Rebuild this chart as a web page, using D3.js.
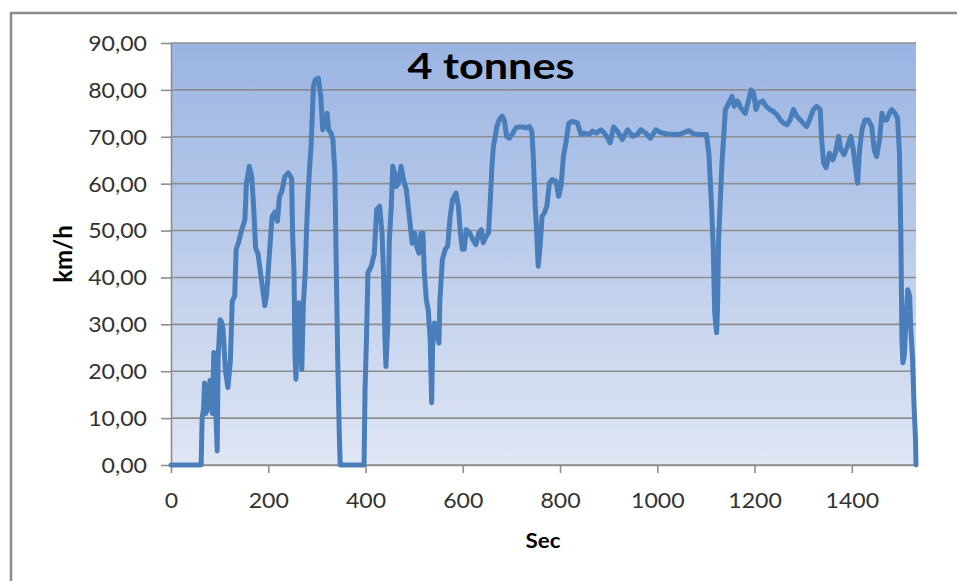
<!DOCTYPE html>
<html>
<head>
<meta charset="utf-8">
<script src="https://cdn.jsdelivr.net/npm/d3@7"></script>
<style>
  html, body { margin: 0; padding: 0; background: #ffffff; }
  svg { display: block; }
  text { font-family: Lato, "Open Sans", "DejaVu Sans", sans-serif; }
</style>
</head>
<body>
<svg id="chart" width="957" height="581"></svg>
<script>
// Speed trace of a 4 tonne vehicle over a drive cycle (time in s, speed in km/h)
const seconds = [
  0, 62, 64, 67, 69, 72, 76, 80, 85, 88, 91, 95, 97, 101, 104, 107, 112, 117, 122, 126,
  131, 134, 139, 145, 152, 155, 161, 166, 170, 174, 179, 186, 193, 197, 202, 205, 208, 214, 219, 223,
  228, 234, 241, 248, 250, 253, 255, 257, 260, 263, 266, 269, 272, 276, 279, 283, 288, 291, 293, 297,
  303, 308, 312, 315, 318, 321, 324, 329, 333, 337, 340, 343, 346, 348, 397, 399, 402, 405, 412, 418,
  423, 429, 434, 437, 440, 442, 446, 449, 453, 456, 460, 463, 468, 473, 478, 484, 490, 496, 501, 505,
  510, 514, 518, 521, 525, 529, 533, 536, 538, 542, 547, 551, 553, 558, 564, 569, 574, 579, 586, 591,
  595, 599, 603, 607, 614, 621, 627, 633, 638, 642, 648, 653, 657, 660, 663, 667, 670, 675, 681, 686,
  690, 696, 703, 709, 716, 723, 730, 737, 742, 745, 749, 752, 755, 759, 763, 768, 773, 778, 784, 792,
  797, 802, 807, 812, 818, 826, 836, 843, 850, 860, 867, 875, 884, 891, 898, 903, 910, 918, 928, 939,
  949, 959, 966, 976, 986, 997, 1007, 1020, 1034, 1048, 1065, 1075, 1089, 1101, 1106, 1111, 1115, 1118, 1122, 1124,
  1126, 1130, 1133, 1137, 1140, 1147, 1154, 1158, 1165, 1172, 1181, 1188, 1193, 1198, 1203, 1208, 1217, 1224, 1232, 1239,
  1246, 1253, 1260, 1267, 1273, 1280, 1287, 1294, 1300, 1307, 1313, 1321, 1328, 1335, 1338, 1342, 1347, 1354, 1361, 1366,
  1373, 1377, 1384, 1391, 1398, 1403, 1409, 1412, 1416, 1421, 1427, 1434, 1441, 1446, 1451, 1457, 1462, 1466, 1472, 1477,
  1482, 1489, 1494, 1498, 1501, 1503, 1505, 1508, 1512, 1515, 1519, 1521, 1525, 1528, 1531, 1532
];
const speedKmh = [
  0, 0, 10, 12, 17.5, 11, 12.5, 18, 11, 24, 15, 3, 23, 31, 30.5, 29, 20, 16.5, 22, 35,
  36, 46, 47.5, 50, 52.3, 60, 63.7, 61.5, 55, 46.3, 45, 39.5, 34, 36.7, 44.5, 48.8, 53, 54, 52, 57.3,
  58.4, 61.5, 62.3, 61.2, 49.5, 41, 23, 18.3, 30, 34.6, 26.8, 20.4, 34, 41, 51, 60, 68, 75.8, 80.8, 82.2,
  82.5, 78.6, 71.5, 74.4, 72.2, 75, 71.5, 70.8, 69.4, 62.3, 41, 21.8, 6.9, 0, 0, 16, 27, 41, 42.4, 45,
  54.5, 55.2, 49.5, 41, 26.8, 21, 30, 48, 55.2, 63.7, 62.3, 59.4, 60.1, 63.7, 60.9, 58.7, 53, 47.3, 49.5, 46.7,
  45.2, 49.5, 49.5, 41, 35.3, 33, 26.8, 13.3, 25.4, 30.3, 28.2, 26, 35.3, 43.8, 46, 46.7, 53, 56.6, 58, 55.2,
  49.5, 46, 46, 50.2, 49.5, 48, 47, 49.5, 50.2, 47.4, 48.8, 49.5, 57.3, 63.7, 68, 70.1, 72.2, 73.6, 74.4, 73.3,
  70.1, 69.7, 70.8, 71.9, 72.1, 72.1, 71.9, 72.2, 71.2, 65.8, 55.2, 49.5, 42.4, 46.7, 53, 53.8, 55.2, 60.1, 60.9, 60.5,
  57.3, 59.4, 65.8, 68.7, 72.9, 73.3, 72.9, 70.5, 70.8, 70.5, 71.2, 70.8, 71.5, 70.8, 69.7, 68.7, 72.1, 71.2, 69.4, 71.5,
  70.1, 70.5, 71.5, 70.8, 69.7, 71.5, 70.9, 70.6, 70.5, 70.6, 71.3, 70.6, 70.5, 70.5, 66.5, 56.6, 46.7, 32.5, 28.2, 33.9,
  48, 57.3, 64.4, 70.8, 75.8, 77.2, 78.6, 76.5, 77.6, 76.1, 75, 77.9, 80, 79.3, 75.8, 77.2, 77.6, 76.5, 75.8, 75.4,
  74.7, 73.6, 72.9, 72.6, 73.6, 75.8, 74.4, 73.6, 72.9, 72.2, 73.6, 75.8, 76.5, 75.8, 69.4, 64.4, 63.4, 66.5, 65.1, 66.5,
  70.1, 67.3, 66.2, 68, 70.1, 67.3, 62.3, 60.1, 67.3, 71.5, 73.6, 73.6, 72.2, 67.3, 65.8, 69.4, 75, 73.6, 73.6, 75,
  75.8, 75, 74, 66.5, 48, 26.8, 21.8, 23.3, 32.5, 37.4, 36, 29.6, 22.5, 12.6, 5.5, 0
];
const xTicks = [0, 200, 400, 600, 800, 1000, 1200, 1400];
const yTicks = [0, 10, 20, 30, 40, 50, 60, 70, 80, 90];
const titleText = "4 tonnes";
const xTitle = "Sec";
const yTitle = "km/h";

const svg = d3.select("#chart");
const W = 957, H = 581;
const plot = { left: 171, right: 916, top: 43, bottom: 465 };

// chart area with its grey frame
svg.append("rect")
  .attr("x", 11).attr("y", 13)
  .attr("width", W + 20).attr("height", H + 20)
  .attr("fill", "#ffffff")
  .attr("stroke", "#8c8c8c").attr("stroke-width", 2.5);

const x = d3.scaleLinear().domain([0, 1532]).range([plot.left, plot.right]);
const y = d3.scaleLinear().domain([0, 90]).range([plot.bottom, plot.top]);

// plot area: vertical blue gradient
const defs = svg.append("defs");
const grad = defs.append("linearGradient")
  .attr("id", "plotFill").attr("x1", 0).attr("y1", 0).attr("x2", 0).attr("y2", 1);
grad.append("stop").attr("offset", "0%").attr("stop-color", "#9ab4e2");
grad.append("stop").attr("offset", "100%").attr("stop-color", "#dfe6f4");

svg.append("rect")
  .attr("x", plot.left).attr("y", plot.top)
  .attr("width", plot.right - plot.left).attr("height", plot.bottom - plot.top)
  .attr("fill", "url(#plotFill)");

// horizontal gridlines
svg.append("g")
  .selectAll("line")
  .data(yTicks)
  .join("line")
  .attr("x1", plot.left).attr("x2", plot.right)
  .attr("y1", d => y(d)).attr("y2", d => y(d))
  .attr("stroke", "#8e8e8e").attr("stroke-width", 1.6);

const commaFmt = d => d3.format(".2f")(d).replace(".", ",");

// y axis
const yAxis = svg.append("g")
  .attr("transform", `translate(${plot.left},0)`)
  .call(d3.axisLeft(y).tickValues(yTicks).tickFormat(commaFmt).tickSize(10).tickSizeOuter(0));
yAxis.select(".domain").attr("stroke", "#8e8e8e").attr("stroke-width", 1.6);
yAxis.selectAll(".tick line").attr("stroke", "#8e8e8e").attr("stroke-width", 1.6);
yAxis.selectAll(".tick text")
  .attr("x", 0).attr("dy", "0.35em")
  .attr("transform", "translate(-24,0) scale(1.1,1)")
  .attr("text-anchor", "end")
  .attr("fill", "#333333")
  .style("font-size", "21px")
  .style("font-family", "Lato, 'Open Sans', sans-serif");

// x axis
const xAxis = svg.append("g")
  .attr("transform", `translate(0,${plot.bottom})`)
  .call(d3.axisBottom(x).tickValues(xTicks).tickFormat(d3.format("d")).tickSize(8).tickSizeOuter(0));
xAxis.select(".domain").attr("stroke", "#8e8e8e").attr("stroke-width", 1.6);
xAxis.selectAll(".tick line").attr("stroke", "#8e8e8e").attr("stroke-width", 1.6);
xAxis.selectAll(".tick text")
  .attr("y", 0).attr("dy", 0)
  .attr("transform", "translate(0,43) scale(1.1,1)")
  .attr("text-anchor", "middle")
  .attr("fill", "#333333")
  .style("font-size", "21px")
  .style("font-family", "Lato, 'Open Sans', sans-serif");

// speed trace
const line = d3.line()
  .x((d, i) => x(seconds[i]))
  .y(d => y(d));
svg.append("path")
  .datum(speedKmh)
  .attr("d", line)
  .attr("fill", "none")
  .attr("stroke", "#4a7ebb")
  .attr("stroke-width", 5)
  .attr("stroke-linejoin", "round")
  .attr("stroke-linecap", "round");

// title
svg.append("text")
  .attr("transform", "translate(491,79) scale(1.2,1)")
  .attr("text-anchor", "middle")
  .attr("font-weight", "bold")
  .style("font-size", "36px")
  .attr("fill", "#000000")
  .text(titleText);

// axis titles
svg.append("text")
  .attr("transform", "translate(543,548) scale(1.12,1)")
  .attr("text-anchor", "middle")
  .attr("font-weight", "bold")
  .style("font-size", "20px")
  .attr("fill", "#000000")
  .text(xTitle);

svg.append("text")
  .attr("transform", "translate(72,254) rotate(-90)")
  .attr("text-anchor", "middle")
  .attr("font-weight", "bold")
  .style("font-size", "24px")
  .attr("fill", "#000000")
  .text(yTitle);
</script>
</body>
</html>
